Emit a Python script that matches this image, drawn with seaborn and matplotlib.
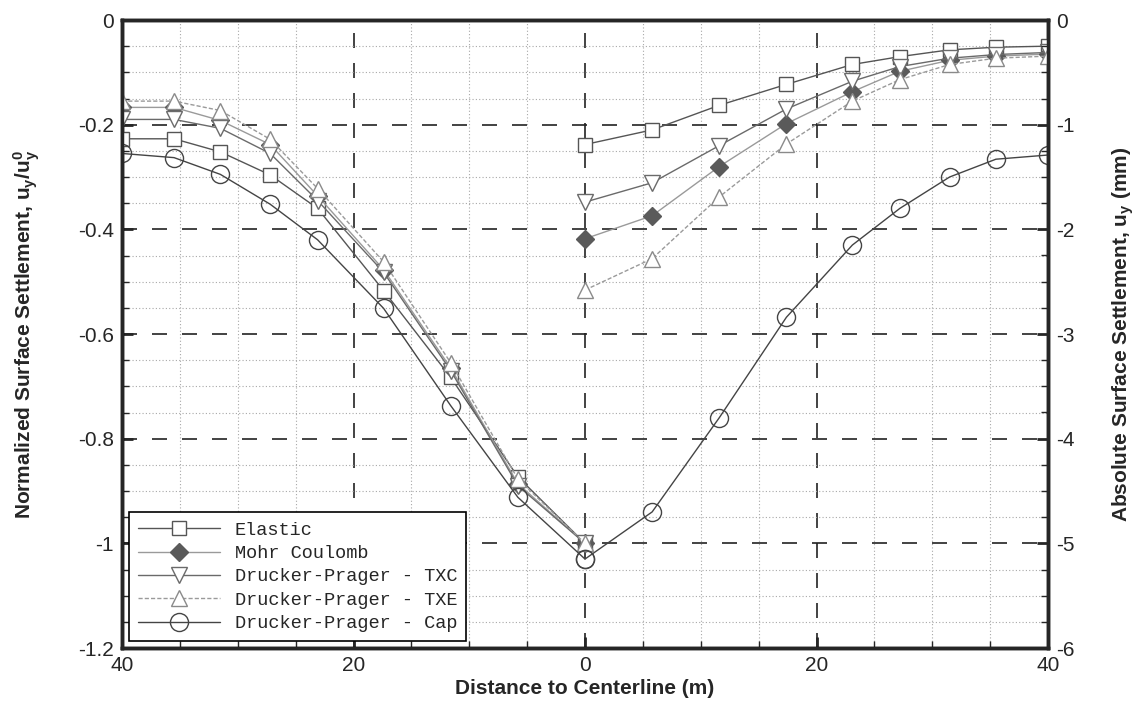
import numpy as np
import pandas as pd
import matplotlib
matplotlib.use("Agg")
import matplotlib.pyplot as plt
from matplotlib.ticker import MultipleLocator, FuncFormatter
from matplotlib.lines import Line2D
import seaborn as sns

# ---------------- data ----------------
x_left = [-40, -35.5, -31.5, -27.2, -23.1, -17.4, -11.6, -5.8, 0]
x_right = [0, 5.8, 11.6, 17.4, 23.1, 27.2, 31.5, 35.5, 40]

elastic_left = [-0.227, -0.227, -0.252, -0.296, -0.360, -0.517, -0.683, -0.873, -1.0]
elastic_right = [-0.238, -0.210, -0.163, -0.123, -0.085, -0.070, -0.057, -0.052, -0.050]
mc_left = [-0.167, -0.167, -0.192, -0.238, -0.336, -0.477, -0.665, -0.886, -1.0]
mc_right = [-0.418, -0.374, -0.280, -0.198, -0.137, -0.098, -0.077, -0.069, -0.065]
txc_left = [-0.190, -0.190, -0.207, -0.255, -0.345, -0.482, -0.670, -0.890, -1.0]
txc_right = [-0.348, -0.311, -0.240, -0.170, -0.117, -0.089, -0.073, -0.066, -0.062]
txe_left = [-0.155, -0.155, -0.173, -0.228, -0.322, -0.462, -0.655, -0.877, -1.0]
txe_right = [-0.516, -0.456, -0.338, -0.237, -0.155, -0.114, -0.085, -0.073, -0.069]
cap_left = [-0.255, -0.263, -0.295, -0.352, -0.420, -0.551, -0.737, -0.912, -1.03]
cap_right = [-1.03, -0.940, -0.760, -0.568, -0.430, -0.360, -0.300, -0.266, -0.258]

labels = ["Elastic", "Mohr Coulomb", "Drucker-Prager - TXC",
          "Drucker-Prager - TXE", "Drucker-Prager - Cap"]

y_ticks_left = [0, -0.2, -0.4, -0.6, -0.8, -1.0, -1.2]
y_ticks_right = [0, -1, -2, -3, -4, -5, -6]
x_ticks = [-40, -20, 0, 20, 40]

# ---------------- styling ----------------
sns.set_style("white")
plt.rcParams["font.family"] = ["Liberation Sans Narrow", "Liberation Sans", "DejaVu Sans"]
plt.rcParams["axes.unicode_minus"] = False
plt.rcParams["mathtext.fontset"] = "custom"
plt.rcParams["mathtext.rm"] = "Liberation Sans:bold"
plt.rcParams["mathtext.it"] = "Liberation Sans:bold"
plt.rcParams["mathtext.bf"] = "Liberation Sans:bold"

styles = [
    dict(color="#555555", marker="s", markersize=10, mfc="white", mec="#555555", lw=1.0, ls="-"),
    dict(color="#9a9a9a", marker="D", markersize=9, mfc="#5a5a5a", mec="#5a5a5a", lw=1.0, ls="-"),
    dict(color="#6a6a6a", marker="v", markersize=11, mfc="white", mec="#6a6a6a", lw=1.0, ls="-"),
    dict(color="#9a9a9a", marker="^", markersize=11, mfc="white", mec="#8a8a8a", lw=1.0, ls=(0, (3, 1.5))),
    dict(color="#444444", marker="o", markersize=13, mfc="none", mec="#444444", lw=1.0, ls="-"),
]
lefts = [elastic_left, mc_left, txc_left, txe_left, cap_left]
rights = [elastic_right, mc_right, txc_right, txe_right, cap_right]

fig = plt.figure(figsize=(11.35, 7.09), dpi=100)
ax = fig.add_axes([122 / 1135, 1 - 648 / 709, (1048 - 122) / 1135, (648 - 20) / 709])

for st, yl, yr in zip(styles, lefts, rights):
    for xs, ys in ((x_left, yl), (x_right, yr)):
        df = pd.DataFrame({"x": xs, "y": ys})
        sns.lineplot(data=df, x="x", y="y", ax=ax, sort=False, legend=False,
                     color=st["color"], lw=st["lw"], linestyle=st["ls"],
                     marker=st["marker"], markersize=st["markersize"],
                     markerfacecolor=st["mfc"], markeredgecolor=st["mec"],
                     markeredgewidth=1.0, zorder=5)

ax.set_xlim(-40, 40)
ax.set_ylim(-1.2, 0)
ax.xaxis.set_major_locator(MultipleLocator(20))
ax.xaxis.set_minor_locator(MultipleLocator(5))
ax.yaxis.set_major_locator(MultipleLocator(0.2))
ax.yaxis.set_minor_locator(MultipleLocator(0.05))
ax.set_xticks(x_ticks)
ax.set_yticks(y_ticks_left)
ax.xaxis.set_major_formatter(FuncFormatter(lambda v, p: f"{abs(v):g}"))
ax.yaxis.set_major_formatter(FuncFormatter(lambda v, p: f"{v:g}"))

ax.grid(which="minor", color="#a8a8a8", ls=(0, (1, 2)), lw=0.8)
ax.grid(which="major", color="#222222", ls=(0, (9, 9)), lw=1.2)
ax.set_axisbelow(True)

for sp in ax.spines.values():
    sp.set_linewidth(2.5)
    sp.set_color("black")

ax.tick_params(which="major", direction="in", length=8, width=2, labelsize=15,
               left=True, bottom=True, top=False, right=False, pad=6)
ax.tick_params(which="minor", direction="in", length=5, width=1,
               left=True, bottom=True, top=False, right=False)

ax.set_xlabel("Distance to Centerline (m)", fontsize=15, fontweight="bold", labelpad=3)
ax.set_ylabel(r"Normalized Surface Settlement, $\mathbf{u_y/u_y^0}$", fontsize=15,
              fontweight="bold", labelpad=26)

ax2 = ax.twinx()
ax2.set_ylim(-6, 0)
ax2.set_yticks(y_ticks_right)
ax2.yaxis.set_minor_locator(MultipleLocator(0.25))
ax2.yaxis.set_major_formatter(FuncFormatter(lambda v, p: f"{v:g}"))
ax2.tick_params(which="major", direction="in", length=8, width=2, labelsize=15, pad=6)
ax2.tick_params(which="minor", direction="in", length=5, width=1)
for sp in ax2.spines.values():
    sp.set_linewidth(2.5)
ax2.set_ylabel(r"Absolute Surface Settlement, $\mathbf{u_y}$ (mm)", fontsize=15,
               fontweight="bold", labelpad=26)

handles = [Line2D([], [], color=st["color"], lw=st["lw"], linestyle=st["ls"],
                  marker=st["marker"], markersize=st["markersize"],
                  markerfacecolor=st["mfc"], markeredgecolor=st["mec"])
           for st in styles]
leg = ax.legend(handles, labels, loc="lower left", bbox_to_anchor=(0.0, 0.0),
                borderaxespad=0.35,
                prop={"family": "Liberation Mono", "size": 13.4},
                handlelength=4.4, handletextpad=0.8, labelspacing=0.34,
                frameon=True, fancybox=False, framealpha=1, edgecolor="black",
                borderpad=0.5)
leg.get_frame().set_linewidth(1.2)
leg.set_zorder(10)

fig.savefig("out.png", dpi=100)
